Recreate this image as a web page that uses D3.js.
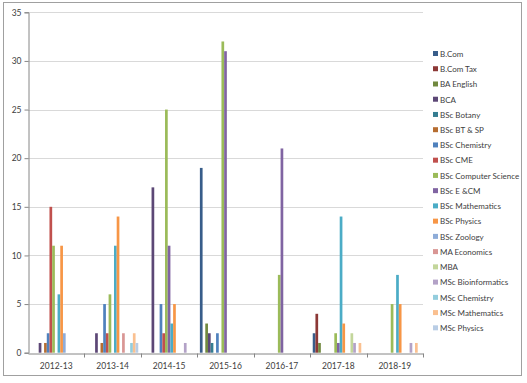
<!DOCTYPE html>
<html>
<head lang="en">
    <meta charset="UTF-8">
    <title>Programme-wise count by year</title>
    <script src="https://cdn.jsdelivr.net/npm/d3@7/dist/d3.min.js"></script>
    <style>
        body { margin: 0; background: #fff; }
        text { font-family: Lato, "Open Sans", sans-serif; fill: #404040; }
        .axis text { font-size: 8.5px; }
        .legend text { font-size: 8px; }
    </style>
</head>
<body>
<script>

    var years = ["2012-13", "2013-14", "2014-15", "2015-16", "2016-17", "2017-18", "2018-19"];

    var programmes = ["B.Com", "B.Com Tax", "BA English", "BCA", "BSc Botany", "BSc BT & SP",
        "BSc Chemistry", "BSc CME", "BSc Computer Science", "BSc E &CM", "BSc Mathematics",
        "BSc Physics", "BSc Zoology", "MA Economics", "MBA", "MSc Bioinformatics",
        "MSc Chemistry", "MSc Mathematics", "MSc Physics"];

    // one row per programme, one value per year
    var bcom        = [0, 0, 0, 19, 0, 2, 0];
    var bcomTax     = [0, 0, 0, 0, 0, 4, 0];
    var baEnglish   = [0, 0, 0, 3, 0, 1, 0];
    var bca         = [1, 2, 17, 2, 0, 0, 0];
    var botany      = [0, 0, 0, 1, 0, 0, 0];
    var btsp        = [1, 1, 0, 0, 0, 0, 0];
    var chemistry   = [2, 5, 5, 2, 0, 0, 0];
    var cme         = [15, 2, 2, 0, 0, 0, 0];
    var compSci     = [11, 6, 25, 32, 8, 2, 5];
    var ecm         = [0, 0, 11, 31, 21, 1, 0];
    var maths       = [6, 11, 3, 0, 0, 14, 8];
    var physics     = [11, 14, 5, 0, 0, 3, 5];
    var zoology     = [2, 0, 0, 0, 0, 0, 0];
    var maEconomics = [0, 2, 0, 0, 0, 0, 0];
    var mba         = [0, 0, 0, 0, 0, 2, 0];
    var mscBioinf   = [0, 0, 1, 0, 0, 1, 1];
    var mscChem     = [0, 1, 0, 0, 0, 0, 0];
    var mscMaths    = [0, 2, 0, 0, 0, 1, 1];
    var mscPhysics  = [0, 1, 0, 0, 0, 0, 0];

    var values = [bcom, bcomTax, baEnglish, bca, botany, btsp, chemistry, cme, compSci, ecm,
        maths, physics, zoology, maEconomics, mba, mscBioinf, mscChem, mscMaths, mscPhysics];

    var yTicks = [0, 5, 10, 15, 20, 25, 30, 35];

    var colors = ["#385D8A", "#8C3836", "#71893F", "#5C4776", "#357D91", "#B66D31",
        "#4F81BD", "#C0504D", "#9BBB59", "#8064A2", "#4BACC6", "#F79646",
        "#8EACD8", "#D99694", "#C3D69B", "#B3A2C7", "#93CDDD", "#FAC090", "#B9CDE5"];

    var width = 527,
        height = 383;

    var svg = d3.select("body").append("svg")
        .attr("width", width)
        .attr("height", height);

    // outer chart frame
    svg.append("rect")
        .attr("x", 3.5).attr("y", 2.5)
        .attr("width", 518).attr("height", 373)
        .attr("fill", "#fff")
        .attr("stroke", "#a0a0a0");

    var plot = {left: 28, right: 423, top: 12.3, bottom: 352.7};

    var x0 = d3.scaleBand().domain(years).range([plot.left, plot.right]);
    var bw = x0.bandwidth();
    var x1 = d3.scaleBand().domain(d3.range(programmes.length)).range([2.6, bw - 2.6]);
    var y = d3.scaleLinear().domain([0, 35]).range([plot.bottom, plot.top]);
    var color = d3.scaleOrdinal().domain(d3.range(programmes.length)).range(colors);

    // gridlines
    svg.append("g")
        .selectAll("line")
        .data(yTicks.slice(1))
        .enter().append("line")
        .attr("x1", plot.left).attr("x2", plot.right)
        .attr("y1", function(d) { return Math.round(y(d)) + 0.5; })
        .attr("y2", function(d) { return Math.round(y(d)) + 0.5; })
        .attr("stroke", "#d9d9d9");

    // y axis
    var yAxis = svg.append("g")
        .attr("class", "axis")
        .attr("transform", "translate(" + (plot.left + 0.5) + ",0)")
        .call(d3.axisLeft(y).tickValues(yTicks).tickSize(4).tickPadding(3));
    yAxis.select(".domain").attr("stroke", "#868686");
    yAxis.selectAll(".tick line").attr("stroke", "#868686");
    yAxis.selectAll(".tick text").attr("fill", "#404040");

    // bars
    var groups = svg.append("g")
        .selectAll("g")
        .data(years)
        .enter().append("g")
        .attr("transform", function(d) { return "translate(" + x0(d) + ",0)"; });

    groups.selectAll("rect")
        .data(function(d, i) {
            return values.map(function(row, s) { return {s: s, v: row[i]}; })
                .filter(function(e) { return e.v > 0; });
        })
        .enter().append("rect")
        .attr("x", function(d) { return x1(d.s); })
        .attr("width", x1.bandwidth())
        .attr("y", function(d) { return y(d.v); })
        .attr("height", function(d) { return y(0) - y(d.v); })
        .attr("fill", function(d) { return color(d.s); });

    // x axis
    var xAxis = svg.append("g")
        .attr("class", "axis")
        .attr("transform", "translate(0," + (Math.round(plot.bottom) + 0.5) + ")")
        .call(d3.axisBottom(x0).tickSize(0).tickPadding(9));
    xAxis.select(".domain").attr("stroke", "#868686");
    xAxis.selectAll(".tick text").attr("fill", "#404040");

    // category separator ticks
    xAxis.selectAll(".sep")
        .data(years.slice(1).concat(["end"]))
        .enter().append("line")
        .attr("class", "sep")
        .attr("x1", function(d, i) { return Math.round(plot.left + bw * (i + 1)) + 0.5; })
        .attr("x2", function(d, i) { return Math.round(plot.left + bw * (i + 1)) + 0.5; })
        .attr("y1", 0).attr("y2", 4)
        .attr("stroke", "#868686");

    // legend
    var legend = svg.append("g")
        .attr("class", "legend")
        .selectAll("g")
        .data(programmes)
        .enter().append("g")
        .attr("transform", function(d, i) { return "translate(433," + (54 + i * 15.24) + ")"; });

    legend.append("rect")
        .attr("x", 0).attr("y", -3)
        .attr("width", 5).attr("height", 5)
        .attr("fill", function(d, i) { return color(i); });

    legend.append("text")
        .attr("x", 7)
        .attr("y", 0)
        .attr("dy", "0.35em")
        .text(function(d) { return d; });

</script>
</body>
</html>
